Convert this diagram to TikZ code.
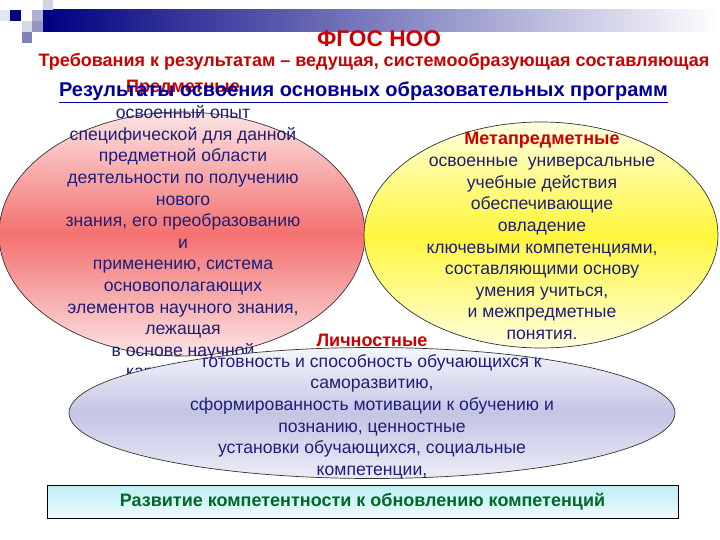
\documentclass[tikz,border=0pt]{standalone}
\usepackage{fontspec}
\setmainfont{Liberation Sans}
\usetikzlibrary{shapes.geometric}
\definecolor{tred}{RGB}{204,0,0}
\definecolor{tblue}{RGB}{0,0,153}
\definecolor{tnavy}{RGB}{30,30,120}
\definecolor{tgreen}{RGB}{0,105,40}
\definecolor{barblue}{RGB}{0,0,128}
\definecolor{pinkL}{RGB}{252,228,228}
\definecolor{pinkM}{RGB}{244,112,112}
\definecolor{yelL}{RGB}{255,255,222}
\definecolor{yelM}{RGB}{255,246,60}
\definecolor{lavL}{RGB}{246,246,252}
\definecolor{lavM}{RGB}{196,196,228}
\definecolor{cyL}{RGB}{244,252,253}
\definecolor{cyM}{RGB}{192,238,245}
\begin{document}
\begin{tikzpicture}[x=1pt,y=-1pt,
  bodytxt/.style={text=tnavy, align=center, inner sep=0pt, font=\fontsize{17.6}{21.6}\selectfont},
  redlbl/.style={text=tred, inner sep=0pt, font=\bfseries\fontsize{18}{21}\selectfont},
  oval/.style={ellipse, draw=black!80, line width=0.7pt, inner sep=0pt},
  sq/.style={draw=none}]
\useasboundingbox (0,0) rectangle (720,540);
% header bar and squares
\shade[left color=barblue, right color=white] (43,10) rectangle (720,32);
\fill[sq, fill={rgb,255:red,228;green,228;blue,242}] (0,10) rectangle (10,21);
\fill[sq, fill=barblue] (10,10) rectangle (21,21);
\fill[sq, fill={rgb,255:red,176;green,176;blue,210}] (32,10) rectangle (43,21);
\fill[sq, fill={rgb,255:red,210;green,210;blue,232}] (43,0) rectangle (53,10);
\fill[sq, fill={rgb,255:red,216;green,216;blue,236}] (22,21) rectangle (32,32);
\fill[sq, fill={rgb,255:red,150;green,150;blue,196}] (32,21) rectangle (43,32);
\fill[sq, fill={rgb,255:red,130;green,130;blue,186}] (22,32) rectangle (32,43);
% titles
\node[text=tred, inner sep=0pt, font=\bfseries\fontsize{22.7}{26}\selectfont] (t1) at (379,39) {ФГОС НОО};
\node[text=tred, inner sep=0pt, font=\bfseries\fontsize{18}{21}\selectfont] (t2) at (374,62) {Требования к результатам – ведущая, системообразующая составляющая};
\node[redlbl] (pr) at (183,88) {Предметные};
\node[text=tblue, inner sep=0pt, font=\bfseries\fontsize{20}{23}\selectfont] (t3) at (363.5,92) {\underline{Результаты освоения основных образовательных программ}};
% left ellipse
\node[oval, minimum width=366pt, minimum height=244pt, top color=pinkL, bottom color=pinkL, middle color=pinkM] (L) at (182,234) {};
\node[bodytxt] (Ltxt) at (183,243.5) {освоенный опыт\\специфической для данной\\предметной области\\деятельности по получению\\нового\\знания, его преобразованию\\и\\применению, система\\основополагающих\\элементов научного знания,\\лежащая\\в основе научной\\картины мира};
% right ellipse
\node[oval, minimum width=354pt, minimum height=226pt, top color=yelL, bottom color=yelL, middle color=yelM] (R) at (541,235) {};
\node[redlbl] (mp) at (542,140) {Метапредметные};
\node[bodytxt] (Rtxt) at (542,248.5) {освоенные \ универсальные\\учебные действия\\обеспечивающие\\овладение\\ключевыми компетенциями,\\составляющими основу\\умения учиться,\\и межпредметные\\понятия.};
% bottom ellipse
\node[redlbl] (ln) at (372,340) {Личностные};
\node[oval, minimum width=606pt, minimum height=131pt, top color=lavL, bottom color=lavL!80!lavM, middle color=lavM] (B) at (372,413) {};
\node[bodytxt] (Btxt) at (372,416.5) {готовность и способность обучающихся к\\саморазвитию,\\сформированность мотивации к обучению и\\познанию, ценностные\\установки обучающихся, социальные\\компетенции,};
% bottom box
\node[draw=black, line width=0.7pt, rectangle, minimum width=631pt, minimum height=33pt, inner sep=0pt, top color=cyM, bottom color=cyL, middle color=cyM!60!cyL, text=tgreen, font=\bfseries\fontsize{18}{21}\selectfont] (box) at (362.5,502) {Развитие компетентности к обновлению компетенций};
\end{tikzpicture}
\end{document}
